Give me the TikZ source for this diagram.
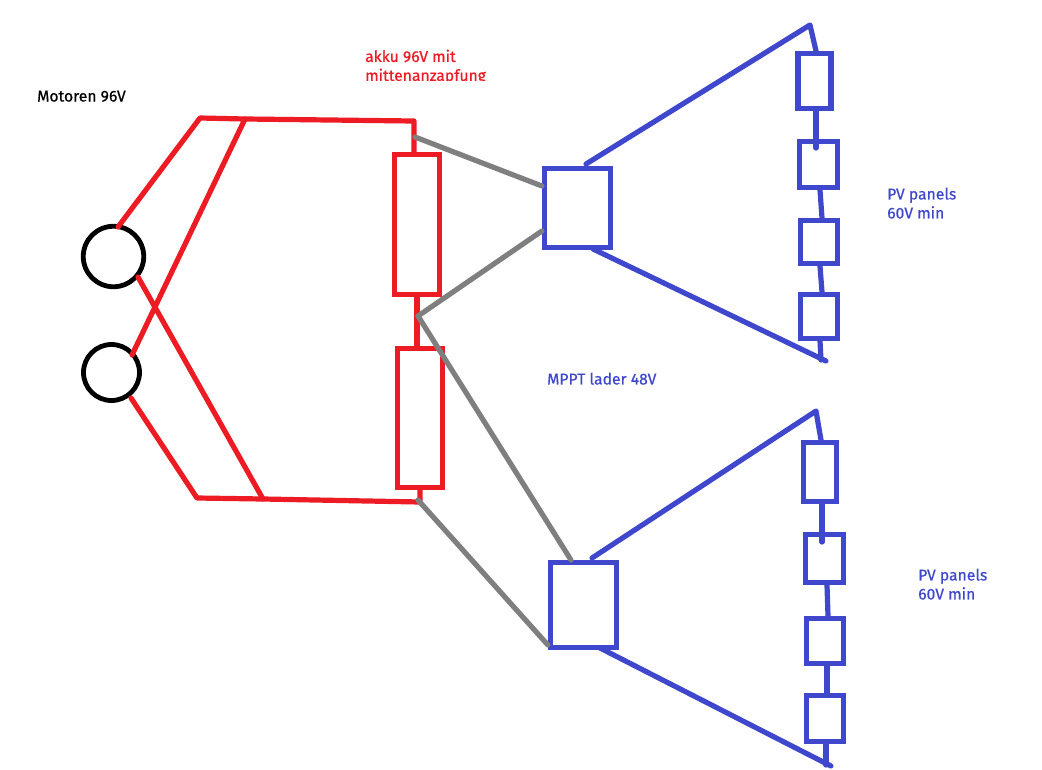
\documentclass[tikz,border=0pt]{standalone}
\usepackage{fontspec}
\setmainfont{Fira Sans}
\definecolor{pred}{HTML}{ED1C24}
\definecolor{pblue}{HTML}{3F48CC}
\definecolor{pgray}{HTML}{7F7F7F}
\tikzset{
  redl/.style={draw=pred,line width=5.2pt,line join=round,line cap=round},
  bluel/.style={draw=pblue,line width=5.2pt,line join=round,line cap=round},
  grayl/.style={draw=pgray,line width=5.2pt,line cap=round},
  motor/.style={circle,draw=black,line width=4.8pt,inner sep=0pt},
  cell/.style={rectangle,draw=pred,line width=5.2pt,inner sep=0pt},
  panel/.style={rectangle,draw=pblue,line width=5.2pt,inner sep=0pt},
  lab/.style={font=\fontsize{15.7}{19}\selectfont\addfontfeature{FakeBold=0.5},anchor=north west,inner sep=0pt,align=left},
}
\begin{document}
\begin{tikzpicture}[x=1pt,y=-1pt]
\useasboundingbox (0,0) rectangle (1042,769);
\fill[white] (0,0) rectangle (1042,769);
% coordinates
\foreach \n/\x/\y in {ra/118/227,rb/200/118,rc/245/119,rd/414/121,re/132/355,rf/138/277,rg/263/499,rh/131/398,ri/197/498,rj/420/502,
 ga/415/137,gb/418/316,gc/418/500,
 ba/586/164,bb/810/25,bc/593/249,bd/826/361,be/821/360,
 bf/592/558,bg/816/411,bh/600/648,bi/831/766,bj/826/765}{\coordinate (\n) at (\x,\y);}
% motors
\node[motor,minimum size=60.5pt] (m1) at (113.5,256.5) {};
\node[motor,minimum size=56pt] (m2) at (111.5,372.5) {};
% battery cells
\node[cell,minimum width=45pt,minimum height=140pt] (c1) at (417,224.5) {};
\node[cell,minimum width=45pt,minimum height=139pt] (c2) at (420,418) {};
% red wiring
\draw[redl] (ra) -- (rb) -- (rc) -- (rd) -- (c1.north -| rd);
\draw[redl] (re) -- (rc);
\draw[redl] (rf) -- (rg);
\draw[redl] (rh) -- (ri) -- (rg) -- (rj) -- (c2.south -| rj);
\draw[redl] (c1.south) -- (c2.north -| c1.south);
% chargers
\node[panel,minimum width=66pt,minimum height=79pt] (u1) at (577.5,208) {};
\node[panel,minimum width=66pt,minimum height=85pt] (u2) at (583.5,605) {};
% gray wiring
\draw[grayl] (ga) -- (u1.west |- 0,186);
\draw[grayl] (u1.west |- 0,231) -- (gb);
\draw[grayl] (gb) -- (571,560) coordinate (gd);
\draw[grayl] (gc) -- (u2.west |- 0,645);
% panels 1
\node[panel,minimum width=33pt,minimum height=55pt] (p1) at (814.5,81) {};
\node[panel,minimum width=38pt,minimum height=46pt] (p2) at (818.5,164.5) {};
\node[panel,minimum width=37pt,minimum height=43pt] (p3) at (819,242) {};
\node[panel,minimum width=37pt,minimum height=44pt] (p4) at (819,316.5) {};
\draw[bluel] (ba) -- (bb) -- (p1.north -| 816,0);
\draw[bluel] (p1.south -| 816,0) -- (816,148);
\draw[bluel] (p2.south -| 820,0) -- (p3.north -| 822,0);
\draw[bluel] (p3.south -| 820,0) -- (p4.north -| 822,0);
\draw[bluel] (p4.south -| 820,0) -- (be);
\draw[bluel] (bc) -- (bd);
% panels 2
\node[panel,minimum width=33pt,minimum height=59pt] (q1) at (820,472) {};
\node[panel,minimum width=38pt,minimum height=48pt] (q2) at (824.5,558.5) {};
\node[panel,minimum width=37pt,minimum height=45pt] (q3) at (825,641) {};
\node[panel,minimum width=37pt,minimum height=46pt] (q4) at (825,718.5) {};
\draw[bluel] (bf) -- (bg) -- (q1.north -| 821,0);
\draw[bluel] (q1.south -| 822,0) -- (822,542);
\draw[bluel] (q2.south -| 827,0) -- (q3.north -| 828,0);
\draw[bluel] (q3.south -| 827,0) -- (q4.north -| 827,0);
\draw[bluel] (q4.south -| 826,0) -- (bj);
\draw[bluel] (bh) -- (bi);
% labels
\node[lab,text=black] (t1) at (37,90.5) {Motoren 96V};
\begin{scope}
\clip (340,40) rectangle (520,80);
\node[lab,text=pred] (t2) at (365,49.5) {akku 96V mit\\mittenanzapfung};
\end{scope}
\node[lab,text=pblue] (t3) at (547,372.5) {MPPT lader 48V};
\node[lab,text=pblue] (t4) at (887,187.5) {PV panels\\60V min};
\node[lab,text=pblue] (t5) at (918,568.5) {PV panels\\60V min};
\end{tikzpicture}
\end{document}
